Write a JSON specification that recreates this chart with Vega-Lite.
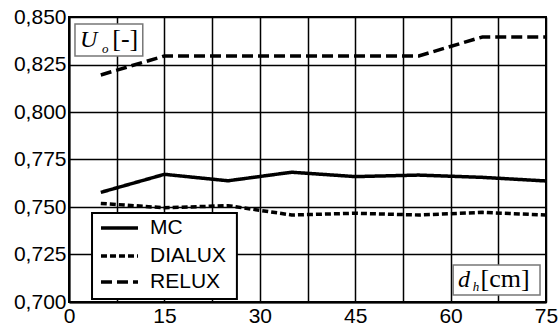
{
  "$schema": "https://vega.github.io/schema/vega-lite/v6.json",
  "width": 477,
  "height": 285,
  "autosize": "none",
  "padding": {"left": 69, "top": 17, "right": 14, "bottom": 23},
  "background": "white",
  "config": {
    "view": {"stroke": "black", "strokeWidth": 2},
    "font": "Liberation Sans"
  },
  "datasets": {
    "series": [
      {"d": 5, "U": 0.7577, "method": "MC"},
      {"d": 15, "U": 0.7672, "method": "MC"},
      {"d": 25, "U": 0.7638, "method": "MC"},
      {"d": 35, "U": 0.7683, "method": "MC"},
      {"d": 45, "U": 0.766, "method": "MC"},
      {"d": 55, "U": 0.7668, "method": "MC"},
      {"d": 65, "U": 0.7656, "method": "MC"},
      {"d": 75, "U": 0.7637, "method": "MC"},
      {"d": 5, "U": 0.7519, "method": "DIALUX"},
      {"d": 15, "U": 0.7496, "method": "DIALUX"},
      {"d": 25, "U": 0.7507, "method": "DIALUX"},
      {"d": 35, "U": 0.7458, "method": "DIALUX"},
      {"d": 45, "U": 0.7467, "method": "DIALUX"},
      {"d": 55, "U": 0.7458, "method": "DIALUX"},
      {"d": 65, "U": 0.7472, "method": "DIALUX"},
      {"d": 75, "U": 0.7458, "method": "DIALUX"},
      {"d": 5, "U": 0.8195, "method": "RELUX"},
      {"d": 15, "U": 0.8295, "method": "RELUX"},
      {"d": 25, "U": 0.8295, "method": "RELUX"},
      {"d": 35, "U": 0.8295, "method": "RELUX"},
      {"d": 45, "U": 0.8295, "method": "RELUX"},
      {"d": 55, "U": 0.8295, "method": "RELUX"},
      {"d": 65, "U": 0.8395, "method": "RELUX"},
      {"d": 75, "U": 0.8395, "method": "RELUX"}
    ],
    "legendBox": [
      {"d": 3.62, "d2": 26.4, "U": 0.74684, "U2": 0.70158}
    ],
    "legendRows": [
      {"d": 5.03, "d2": 10.85, "U": 0.7389, "method": "MC"},
      {"d": 5.03, "d2": 10.85, "U": 0.7242, "method": "DIALUX"},
      {"d": 5.03, "d2": 10.85, "U": 0.7105, "method": "RELUX"}
    ],
    "legendText": [
      {"d": 12.74, "U": 0.7389, "t": "MC"},
      {"d": 12.74, "U": 0.7242, "t": "DIALUX"},
      {"d": 12.74, "U": 0.7105, "t": "RELUX"}
    ],
    "boxes": [
      {"d": 0.94, "d2": 11.6, "U": 0.8463, "U2": 0.8295},
      {"d": 60.4, "d2": 74.06, "U": 0.7195, "U2": 0.7037}
    ],
    "mainText": [
      {"d": 1.73, "U": 0.8342, "t": "U"},
      {"d": 61.16, "U": 0.7079, "t": "d"}
    ],
    "subText": [
      {"d": 5.19, "U": 0.8311, "t": "o"},
      {"d": 63.5, "U": 0.7058, "t": "h"}
    ],
    "unitText": [
      {"d": 6.8, "U": 0.8342, "t": "[-]"},
      {"d": 64.7, "U": 0.7079, "t": "[cm]"}
    ]
  },
  "layer": [
    {
      "data": {"name": "series"},
      "mark": {"type": "line", "strokeWidth": 3.5, "color": "black"},
      "encoding": {
        "x": {
          "field": "d", "type": "quantitative",
          "scale": {"domain": [0, 75], "nice": false},
          "axis": {
            "values": [0, 7.5, 15, 22.5, 30, 37.5, 45, 52.5, 60, 67.5, 75],
            "labelExpr": "datum.value % 15 == 0 ? datum.value : ''",
            "title": null, "grid": true, "gridColor": "black", "gridWidth": 1.5, "gridOpacity": 1,
            "domainColor": "black", "domainWidth": 2, "ticks": false,
            "labelFontSize": 21, "labelColor": "black", "labelPadding": 3, "labelFlush": false,
            "labelFont": "Liberation Sans"
          }
        },
        "y": {
          "field": "U", "type": "quantitative",
          "scale": {"domain": [0.7, 0.85], "nice": false, "zero": false},
          "axis": {
            "values": [0.7, 0.725, 0.75, 0.775, 0.8, 0.825, 0.85],
            "labelExpr": "replace(format(datum.value, '.3f'), '.', ',')",
            "title": null, "grid": true, "gridColor": "black", "gridWidth": 1.5, "gridOpacity": 1,
            "domainColor": "black", "domainWidth": 2, "ticks": false,
            "labelFontSize": 21, "labelColor": "black", "labelPadding": 3, "labelFlush": false,
            "labelFont": "Liberation Sans"
          }
        },
        "strokeDash": {
          "field": "method", "type": "nominal",
          "scale": {"domain": ["MC", "DIALUX", "RELUX"], "range": [[1, 0], [6, 3], [11, 5]]},
          "legend": null
        }
      }
    },
    {
      "data": {"name": "legendBox"},
      "mark": {"type": "rect", "fill": "white", "stroke": "black", "strokeWidth": 2},
      "encoding": {
        "x": {"field": "d", "type": "quantitative"},
        "x2": {"field": "d2"},
        "y": {"field": "U", "type": "quantitative"},
        "y2": {"field": "U2"}
      }
    },
    {
      "data": {"name": "legendRows"},
      "mark": {"type": "rule", "strokeWidth": 3.5, "color": "black"},
      "encoding": {
        "x": {"field": "d", "type": "quantitative"},
        "x2": {"field": "d2"},
        "y": {"field": "U", "type": "quantitative"},
        "strokeDash": {"field": "method", "type": "nominal", "legend": null}
      }
    },
    {
      "data": {"name": "legendText"},
      "mark": {"type": "text", "font": "Liberation Sans", "fontSize": 21, "align": "left", "baseline": "middle", "color": "black"},
      "encoding": {
        "x": {"field": "d", "type": "quantitative"},
        "y": {"field": "U", "type": "quantitative"},
        "text": {"field": "t"}
      }
    },
    {
      "data": {"name": "boxes"},
      "mark": {"type": "rect", "fill": "white", "stroke": "#777777", "strokeWidth": 1.5},
      "encoding": {
        "x": {"field": "d", "type": "quantitative"},
        "x2": {"field": "d2"},
        "y": {"field": "U", "type": "quantitative"},
        "y2": {"field": "U2"}
      }
    },
    {
      "data": {"name": "mainText"},
      "mark": {"type": "text", "font": "Liberation Serif", "fontStyle": "italic", "fontSize": 24, "align": "left", "baseline": "alphabetic", "color": "black"},
      "encoding": {
        "x": {"field": "d", "type": "quantitative"},
        "y": {"field": "U", "type": "quantitative"},
        "text": {"field": "t"}
      }
    },
    {
      "data": {"name": "subText"},
      "mark": {"type": "text", "font": "Liberation Serif", "fontStyle": "italic", "fontSize": 13, "align": "left", "baseline": "alphabetic", "color": "black"},
      "encoding": {
        "x": {"field": "d", "type": "quantitative"},
        "y": {"field": "U", "type": "quantitative"},
        "text": {"field": "t"}
      }
    },
    {
      "data": {"name": "unitText"},
      "mark": {"type": "text", "font": "Liberation Serif", "fontSize": 26, "align": "left", "baseline": "alphabetic", "color": "black"},
      "encoding": {
        "x": {"field": "d", "type": "quantitative"},
        "y": {"field": "U", "type": "quantitative"},
        "text": {"field": "t"}
      }
    }
  ]
}
